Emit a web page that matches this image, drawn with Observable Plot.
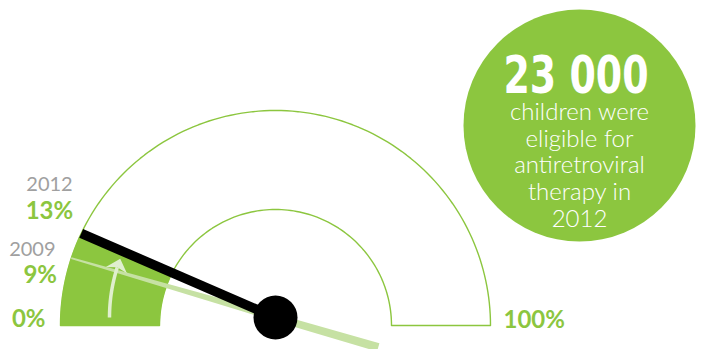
<!DOCTYPE html>
<html><head><meta charset="utf-8">
<script src="https://cdn.jsdelivr.net/npm/d3@7"></script>
<script src="https://cdn.jsdelivr.net/npm/@observablehq/plot@0.6"></script>
<style>
html,body{margin:0;padding:0;background:#fff;}
#chart{width:703px;height:349px;overflow:hidden;}
</style></head><body><div id="chart"></div>
<script>
// ---------- DATA ----------
const years = ["2009", "2012"];
const coverage = [9, 13];              // % of eligible children receiving ART
const scaleEnds = [0, 100];
const scaleLabels = ["0%", "100%"];
const headlineNumber = "23 000";
const headlineLines = ["children were", "eligible for", "antiretroviral", "therapy in", "2012"];
const arrowRange = [0, 11.5];          // decorative arrow sweep (in %)

// ---------- STYLE / LAYOUT ----------
const GREEN = "#8cc63f", GREY = "#a0a0a0", LIGHT = "#c6e1a3", ARROWC = "#e0efcf";
const W = 703, H = 349;
const PX = 215;                  // pixels per gauge unit (outer radius)
const CX = 275, CY = 325;        // gauge centre in pixels
const R_OUT = 1, R_IN = 116 / PX;
const PIVOT = [0, 8 / PX];
const BUBBLE = {x: (579 - CX) / PX, y: (CY - 125) / PX, r: 116};
const FONT = "Lato, 'Open Sans', sans-serif";
// label nudges (px) relative to the point of the value on the outer arc
const yearNudge = {"9": [-13.5, -10], "13": [-5.5, -49.5]};
const pctNudge  = {"9": [-12, 17], "13": [-5, -21.5], "0": [-15, 1], "100": [13, 2]};

// ---------- GEOMETRY HELPERS ----------
const ang = p => Math.PI * (1 - p / 100);
const arc = (r, a0, a1, c = [0, 0], n = 120) =>
  d3.range(n + 1).map(i => { const a = a0 + (a1 - a0) * i / n; return [c[0] + r * Math.cos(a), c[1] + r * Math.sin(a)]; });
function rayHit(P, th, R) {
  const d = [Math.cos(th), Math.sin(th)];
  const b = P[0] * d[0] + P[1] * d[1];
  const c = P[0] * P[0] + P[1] * P[1] - R * R;
  const t = -b + Math.sqrt(b * b - c);
  return [P[0] + t * d[0], P[1] + t * d[1], t];
}
const onArc = (p, dx, dy) => [R_OUT * Math.cos(ang(p)) + dx / PX, R_OUT * Math.sin(ang(p)) - dy / PX];

const latest = coverage[coverage.length - 1], previous = coverage[0];

// annulus outline
const outline = [...arc(R_OUT, Math.PI, 0), ...arc(R_IN, 0, Math.PI)];
// filled sector up to the latest needle
const thL = ang(latest);
const hitO = rayHit(PIVOT, thL, R_OUT), hitI = rayHit(PIVOT, thL, R_IN);
const sector = [...arc(R_OUT, Math.PI, Math.atan2(hitO[1], hitO[0])),
                ...arc(R_IN, Math.atan2(hitI[1], hitI[0]), Math.PI)];
// previous-year needle (light, tapered with tail)
const thP = ang(previous), dP = [Math.cos(thP), Math.sin(thP)], nP = [-dP[1], dP[0]];
const tipT = rayHit(PIVOT, thP, R_OUT)[2], tailT = -107 / PX;
const pt = (t, w) => [PIVOT[0] + dP[0] * t + nP[0] * w / 2 / PX, PIVOT[1] + dP[1] * t + nP[1] * w / 2 / PX];
const lightNeedle = [pt(tipT, 1.8), pt(0, 7.5), pt(tailT, 8.5), pt(tailT, -8.5), pt(0, -7.5), pt(tipT, -1.8)];
// latest needle
const blackNeedle = [PIVOT, [hitO[0], hitO[1]]];
// arrow
const rA = 166 / PX, thTip = ang(arrowRange[1]), thBase = thTip + 12 / 166, thNotch = thBase - 3 / 166;
const polar = (r, a) => [PIVOT[0] + r * Math.cos(a), PIVOT[1] + r * Math.sin(a)];
const shaft = arc(rA, ang(arrowRange[0]), thNotch, PIVOT, 60);
const head = [polar(rA, thTip), polar(rA + 11 / PX, thBase), polar(rA, thNotch), polar(rA - 11 / PX, thBase)];

// labels
const yearLabels = years.map((y, i) => { const p = onArc(coverage[i], ...yearNudge[coverage[i]]); return {x: p[0], y: p[1], t: y}; });
const pctLabels = [...coverage.map(v => ({v, t: v + "%"})), ...scaleEnds.map((v, i) => ({v, t: scaleLabels[i]}))]
  .map(d => { const p = onArc(d.v, ...pctNudge[d.v]); return {x: p[0], y: p[1], t: d.t, anchor: d.v === 100 ? "start" : "end"}; });

const X = d => d[0], Y = d => d[1];
const chart = Plot.plot({
  width: W, height: H, margin: 0,
  x: {domain: [-CX / PX, (W - CX) / PX], range: [0, W], axis: null},
  y: {domain: [(CY - H) / PX, CY / PX], range: [H, 0], axis: null},
  style: {background: "white", fontFamily: FONT},
  marks: [
    Plot.line(outline, {x: X, y: Y, stroke: GREEN, strokeWidth: 1.4, curve: "linear-closed"}),
    Plot.line(sector, {x: X, y: Y, fill: GREEN, stroke: GREEN, strokeWidth: 0.5}),
    Plot.line(lightNeedle, {x: X, y: Y, fill: LIGHT, stroke: null, curve: "linear-closed"}),
    Plot.line(shaft, {x: X, y: Y, stroke: ARROWC, strokeWidth: 3.5, strokeLinecap: "butt"}),
    Plot.line(head, {x: X, y: Y, fill: ARROWC, stroke: null, curve: "linear-closed"}),
    Plot.line(blackNeedle, {x: X, y: Y, stroke: "black", strokeWidth: 9.5, strokeLinecap: "butt"}),
    Plot.dot([PIVOT], {x: X, y: Y, r: 22, fill: "black", stroke: null}),
    Plot.text(yearLabels, {x: "x", y: "y", text: "t", textAnchor: "end", lineAnchor: "bottom", fontSize: 20, fill: GREY, fontFamily: FONT}),
    Plot.text(pctLabels.filter(d => d.anchor === "end"), {x: "x", y: "y", text: "t", textAnchor: "end", lineAnchor: "bottom", fontSize: 24, fontWeight: "bold", fill: GREEN, fontFamily: FONT}),
    Plot.text(pctLabels.filter(d => d.anchor === "start"), {x: "x", y: "y", text: "t", textAnchor: "start", lineAnchor: "bottom", fontSize: 24, fontWeight: "bold", fill: GREEN, fontFamily: FONT}),
    Plot.dot([BUBBLE], {x: "x", y: "y", r: BUBBLE.r, fill: GREEN, stroke: null}),
    Plot.text([headlineNumber], {x: BUBBLE.x - 3.5 / PX, y: (CY - 92) / PX, text: d => d, textAnchor: "middle", lineAnchor: "bottom", fontSize: 51, fontWeight: "bold", fill: "white", fontFamily: "'Liberation Sans Narrow', 'DejaVu Sans Condensed', sans-serif"}),
    Plot.text([headlineLines.join("\n")], {x: BUBBLE.x, y: (CY - 226) / PX, text: d => d, textAnchor: "middle", lineAnchor: "bottom", lineHeight: 1.105, fontSize: 24, fontWeight: 300, fill: "white", fontFamily: FONT})
  ]
});
document.getElementById("chart").appendChild(chart);
d3.select(chart).selectAll("text").filter(function () { return this.textContent === headlineNumber; })
  .attr("textLength", 145).attr("lengthAdjust", "spacingAndGlyphs");
</script></body></html>
